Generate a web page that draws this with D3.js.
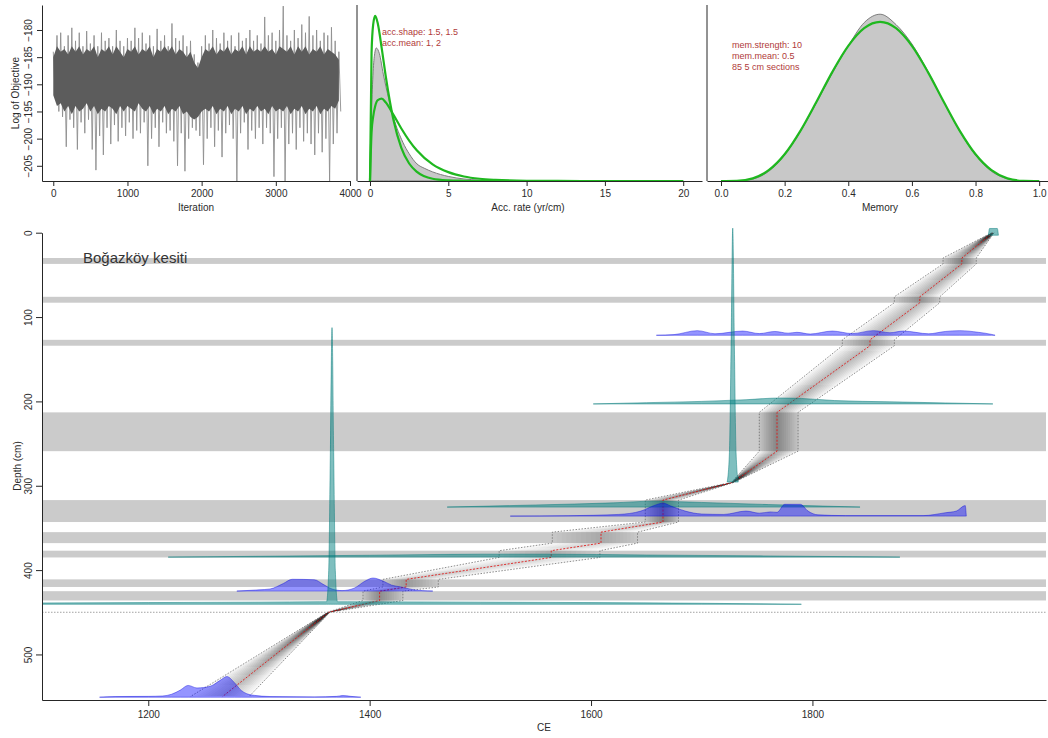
<!DOCTYPE html>
<html>
<head>
<meta charset="utf-8">
<script src="https://d3js.org/d3.v7.min.js"></script>
<style>
  body { margin: 0; background: #fff; }
  svg { display: block; }
  text { font-family: "Liberation Sans", Arial, Helvetica, sans-serif; fill: #2b2b2b; }
</style>
</head>
<body>
<svg id="chart" width="1048" height="738"></svg>
<script>
/* global d3 */

// ---- MCMC trace (log of objective), one value pair per 50 iterations
const traceStep = 50;
const traceHi = [-184, -181, -180.5, -183, -181, -179.6, -182, -180.5, -183, -180.2,
  -182.5, -181, -183, -180.5, -182, -181.5, -183, -180, -182, -183,
  -181.5, -182, -179.6, -181.5, -180.5, -182.5, -181, -183, -179.8, -182,
  -181, -183, -178.8, -181.5, -182, -181, -183, -182, -184.5, -186,
  -183, -181, -182.5, -180, -181.5, -182.5, -180.5, -182, -181, -183,
  -180.5, -182, -181.5, -180, -182, -181, -182.5, -177.6, -181, -180.5,
  -182, -180, -175.6, -181, -182, -180, -181.5, -179, -180.5, -177.5,
  -181, -180, -182, -180.5, -181, -179.5, -182, -184];
const traceLo = [-192, -195, -196, -201.5, -196.5, -198, -202, -197, -199, -196.5,
  -202, -205.8, -199.5, -203, -198, -201, -197.5, -200.5, -198, -199.5,
  -197, -200, -198.5, -199, -197, -205, -200, -198, -201.5, -197,
  -199, -198.5, -200.5, -205, -199, -206, -200, -198, -198.5, -199.5,
  -204.8, -200, -198, -201.5, -198.5, -203.4, -199, -197.5, -200, -208,
  -199, -197, -202, -198.5, -200, -198, -201, -198, -199, -207,
  -200, -198, -208, -201, -199, -202, -198, -200.5, -199, -201,
  -203, -199, -202.5, -200, -208, -201, -199, -195];
const coreHi = [-185, -183, -184, -183.5, -184.5, -183, -184, -183, -184.5, -183.5,
  -184, -183, -185, -183.5, -184, -183, -184.5, -183, -184, -185,
  -183.5, -184, -183, -184.5, -183.5, -184, -183, -185, -183.5, -184,
  -183, -184, -183, -184.5, -183.5, -184, -185, -184, -186, -187,
  -185, -183.5, -184, -183, -184.5, -183.5, -184, -183, -184.5, -183.5,
  -184, -183, -184.5, -183, -184, -183.5, -184, -183, -184, -183.5,
  -184.5, -183, -183.5, -184, -183, -184.5, -183, -184, -183, -184.5,
  -183.5, -184, -183, -184.5, -183.5, -184, -184.5, -185.5];
const coreLo = [-192, -194, -193.5, -195, -194, -195.5, -194, -195, -194.5, -193.5,
  -195, -194, -195.5, -194.5, -195, -194, -194.5, -195.5, -194, -195,
  -194, -194.5, -195, -193.5, -194.5, -195, -194, -195.5, -194.5, -195,
  -194, -195.5, -194.5, -195, -194, -195.5, -195, -196, -196.5, -196,
  -195, -194.5, -195, -194, -195.5, -194.5, -195, -194, -195.5, -194.5,
  -195, -194, -195.5, -194.5, -195, -194, -195, -194.5, -195.5, -194,
  -195, -194.5, -195, -194, -195.5, -194.5, -195, -194, -195.5, -194.5,
  -195, -194, -195.5, -194.5, -195, -194, -194.5, -193];
const traceXTicks = [0, 1000, 2000, 3000, 4000];
const traceYTicks = [-180, -185, -190, -195, -200, -205];

// ---- accumulation rate: priors (green) and posterior (grey)
const accGrid = [0, 0.1, 0.2, 0.33, 0.5, 0.75, 1, 1.5, 2, 2.5, 3, 4, 5, 6, 7, 8, 10, 12, 15, 20];
const accPrior1 = [0, 0.564, 0.687, 0.726, 0.692, 0.583, 0.463, 0.268, 0.146, 0.077, 0.04, 0.01, 0.003, 0.001, 0, 0, 0, 0, 0, 0];
const accPrior2 = [0, 0.215, 0.282, 0.329, 0.356, 0.362, 0.346, 0.291, 0.231, 0.178, 0.134, 0.073, 0.039, 0.02, 0.01, 0.005, 0.001, 0.0003, 0, 0];
const accPostX = [0, 0.1, 0.2, 0.3, 0.4, 0.6, 0.85, 1.2, 1.5, 2.1, 2.5, 3, 3.5, 4, 5, 6, 7, 8, 9];
const accPost = [0, 0.3, 0.48, 0.56, 0.585, 0.56, 0.47, 0.36, 0.28, 0.17, 0.12, 0.075, 0.055, 0.04, 0.02, 0.009, 0.004, 0.001, 0];
const accTicks = [0, 5, 10, 15, 20];

// ---- memory: prior (green) and posterior (grey)
const memGrid = [0, 0.05, 0.1, 0.15, 0.2, 0.25, 0.3, 0.35, 0.4, 0.45, 0.5, 0.55, 0.6, 0.65, 0.7, 0.75, 0.8, 0.85, 0.9, 0.95, 1];
const memPrior = [0, 0.003, 0.041, 0.167, 0.413, 0.779, 1.225, 1.688, 2.09, 2.364, 2.461, 2.364, 2.09, 1.688, 1.225, 0.779, 0.413, 0.167, 0.041, 0.003, 0];
const memPost = [0, 0.002, 0.03, 0.15, 0.4, 0.77, 1.21, 1.67, 2.09, 2.45, 2.58, 2.42, 2.12, 1.7, 1.22, 0.77, 0.4, 0.15, 0.035, 0.003, 0];
const memTicks = [0, 0.2, 0.4, 0.6, 0.8, 1];

// ---- age-depth model
const slumpTop = [30, 76, 127, 213, 317, 355, 377, 411, 425];
const slumpBottom = [37, 83, 134, 259, 343, 368, 385, 420, 436];
const hiatusDepth = [450];
const modelDepth = [0, 30, 37, 76, 83, 127, 134, 213, 259, 296, 317, 343, 355, 368, 377, 385, 411, 420, 425, 436, 450, 550];
const modelMean = [1963, 1935, 1935, 1897, 1897, 1852, 1852, 1768, 1768, 1728, 1665, 1665, 1609, 1609, 1564, 1564, 1433, 1433, 1409, 1409, 1363, 1267];
const modelMin = [1962, 1918, 1918, 1874, 1874, 1827, 1827, 1752, 1752, 1727, 1649, 1649, 1565, 1565, 1517, 1517, 1412, 1412, 1394, 1394, 1362, 1238];
const modelMax = [1964, 1948, 1948, 1915, 1915, 1874, 1874, 1787, 1787, 1729, 1679, 1679, 1642, 1642, 1608, 1608, 1462, 1462, 1430, 1430, 1364, 1291];
const ceTicks = [1200, 1400, 1600, 1800];
const depthTicks = [0, 100, 200, 300, 400, 500];

// ---- dated levels (age in CE, height in cm)
const ageA = [1959, 1960, 1967, 1968];
const probA = [0, 8, 8, 0];
const ageB = [1659, 1675, 1696, 1712, 1737, 1752, 1766, 1778, 1786, 1798, 1818, 1836, 1855, 1870, 1882, 1905, 1920, 1933, 1950, 1962, 1965];
const probB = [0, 0.8, 5.5, 1.8, 5, 2, 4.5, 2.5, 3.5, 1.5, 5, 2, 5.5, 3, 5, 1.8, 4.5, 5.5, 3.5, 1, 0];
const ageC = [1602, 1650, 1700, 1740, 1770, 1790, 1820, 1870, 1920, 1963];
const probC = [0, 1.5, 3, 5, 7, 6.5, 4, 2.5, 1.2, 0];
const ageS2 = [1723, 1725, 1726.5, 1728, 1729.5, 1731, 1733];
const probS2 = [0, 35, 160, 301, 160, 35, 0];
const ageD = [1470, 1550, 1620, 1656, 1700, 1760, 1843];
const probD = [0, 2.5, 5, 7, 5.5, 3, 0];
const ageE = [1527, 1580, 1625, 1645, 1658, 1665, 1672, 1685, 1700, 1720, 1740, 1752, 1762, 1768, 1775, 1789, 1796, 1805, 1830, 1900, 1920, 1930, 1938, 1939];
const probE = [0, 0.5, 2, 6, 13, 15.4, 12, 6, 2.5, 2, 6, 3.5, 5, 4.5, 14, 14, 6, 1.5, 0.6, 0.6, 4, 6, 12.5, 0];
const ageF = [1218, 1300, 1400, 1500, 1560, 1650, 1750, 1879];
const probF = [0, 1, 2.2, 3.5, 3.5, 2.5, 1.5, 0];
const ageG = [1280, 1300, 1310, 1322, 1330, 1350, 1358, 1366, 1375, 1386, 1396, 1403, 1412, 1420, 1428, 1438, 1457];
const probG = [0, 1.5, 2.5, 9, 14, 13.5, 8, 2.5, 0.6, 3.5, 12, 15.5, 12, 7, 5, 2, 0];
const ageS1 = [1095, 1200, 1300, 1355, 1361, 1363, 1364.5, 1366, 1367.5, 1369, 1371, 1380, 1500, 1600, 1700, 1790];
const probS1 = [1.5, 2, 2.5, 3, 3, 40, 180, 328, 180, 40, 3, 3, 2.5, 2, 1.2, 0];
const ageI = [1156, 1170, 1200, 1213, 1221, 1229, 1236, 1244, 1256, 1265, 1271, 1278, 1284, 1294, 1310, 1350, 1370, 1376, 1383, 1392];
const probI = [0, 0.8, 1, 1.5, 3.5, 8.5, 14, 11, 13, 20, 24.5, 17, 8, 2.5, 0.8, 0.4, 1, 2, 1, 0];

const dateDepth = [3, 121.6, 203, 295.6, 325.3, 336, 384.6, 424.9, 440.5, 550.7];
const dateKind = ['cal', 'c14', 'cal', 'cal', 'cal', 'c14', 'cal', 'c14', 'cal', 'c14'];
const dateAges = [ageA, ageB, ageC, ageS2, ageD, ageE, ageF, ageG, ageS1, ageI];
const dateProbs = [probA, probB, probC, probS2, probD, probE, probF, probG, probS1, probI];

const svg = d3.select('#chart');
const axisColor = '#262626';
const green = '#1fb81f';
const plain = d3.format('d');

function styleAxis(g) {
  g.select('.domain').attr('stroke', axisColor).attr('stroke-width', 1);
  g.selectAll('.tick line').attr('stroke', axisColor);
  g.selectAll('.tick text').attr('font-size', 10).attr('fill', '#2b2b2b');
}

function rotateLeftLabels(g, offset) {
  g.selectAll('.tick text')
    .attr('transform', 'rotate(-90)')
    .attr('x', 0)
    .attr('y', -offset)
    .attr('dy', 0)
    .attr('text-anchor', 'middle');
}

function addClip(id, x, y, w, h) {
  svg.append('clipPath').attr('id', id)
    .append('rect').attr('x', x).attr('y', y).attr('width', w).attr('height', h);
}

// ======== panel 1: trace ========
const p1x = d3.scaleLinear().domain([-152, 4000]).range([42, 350]);
const p1y = d3.scaleLinear().domain([-207.8, -175.4]).range([181, 5]);
addClip('clip1', 42, 5, 308, 176);

const zig = [];
traceHi.forEach((v, i) => {
  zig.push([i * traceStep, v]);
  zig.push([i * traceStep + traceStep / 2, traceLo[i]]);
});
const p1 = svg.append('g').attr('clip-path', 'url(#clip1)');
p1.append('path')
  .attr('d', d3.line().x((d) => p1x(d[0])).y((d) => p1y(d[1]))(zig))
  .attr('fill', 'none').attr('stroke', '#8e8e8e').attr('stroke-width', 0.9);
p1.append('path')
  .attr('d', d3.area()
    .x((d, i) => p1x(i * traceStep))
    .y0((d, i) => p1y(coreLo[i]))
    .y1((d) => p1y(d))(coreHi))
  .attr('fill', '#5c5c5c');

svg.append('g').attr('transform', 'translate(0,181)')
  .call(d3.axisBottom(p1x).tickValues(traceXTicks).tickFormat(plain)
    .tickSize(5).tickSizeOuter(0).tickPadding(4))
  .call(styleAxis);
svg.append('g').attr('transform', 'translate(42,0)')
  .call(d3.axisLeft(p1y).tickValues(traceYTicks).tickFormat(plain).tickSize(5).tickSizeOuter(0))
  .call(styleAxis)
  .call((g) => rotateLeftLabels(g, 10));
svg.append('text').attr('x', 196).attr('y', 211).attr('text-anchor', 'middle')
  .attr('font-size', 10).text('Iteration');
svg.append('text').attr('transform', 'translate(19,93) rotate(-90)').attr('text-anchor', 'middle')
  .attr('font-size', 10).text('Log of Objective');

// ======== panel 2: accumulation rate ========
const p2x = d3.scaleLinear().domain([-0.83, 21.2]).range([357, 702]);
const p2y = d3.scaleLinear().domain([0, 0.7828]).range([181, 3]);

svg.append('path')
  .attr('d', d3.area().curve(d3.curveMonotoneX)
    .x((d, i) => p2x(accPostX[i])).y0(p2y(0)).y1((d) => p2y(d))(accPost))
  .attr('fill', '#c8c8c8').attr('stroke', '#7d7d7d').attr('stroke-width', 1);
[accPrior1, accPrior2].forEach((prior) => {
  svg.append('path')
    .attr('d', d3.line().curve(d3.curveMonotoneX)
      .x((d, i) => p2x(accGrid[i])).y((d) => p2y(d))(prior))
    .attr('fill', 'none').attr('stroke', green).attr('stroke-width', 2.2);
});
svg.append('g').attr('transform', 'translate(0,181)')
  .call(d3.axisBottom(p2x).tickValues(accTicks).tickFormat(plain)
    .tickSize(5).tickSizeOuter(0).tickPadding(4))
  .call(styleAxis);
svg.append('line').attr('x1', 357).attr('x2', 357).attr('y1', 5).attr('y2', 181)
  .attr('stroke', axisColor);
svg.append('text').attr('x', 528).attr('y', 211).attr('text-anchor', 'middle')
  .attr('font-size', 10).text('Acc. rate (yr/cm)');
svg.append('text').attr('x', 382).attr('y', 35).attr('font-size', 9).style('fill', '#b03a3a')
  .text('acc.shape:  1.5, 1.5');
svg.append('text').attr('x', 382).attr('y', 46).attr('font-size', 9).style('fill', '#b03a3a')
  .text('acc.mean:  1, 2');

// ======== panel 3: memory ========
const p3x = d3.scaleLinear().domain([-0.044, 1.034]).range([707, 1050]);
const p3y = d3.scaleLinear().domain([0, 2.8]).range([181, 0]);

svg.append('path')
  .attr('d', d3.area().curve(d3.curveMonotoneX)
    .x((d, i) => p3x(memGrid[i])).y0(p3y(0)).y1((d) => p3y(d))(memPost))
  .attr('fill', '#c8c8c8').attr('stroke', '#7d7d7d').attr('stroke-width', 1);
svg.append('path')
  .attr('d', d3.line().curve(d3.curveMonotoneX)
    .x((d, i) => p3x(memGrid[i])).y((d) => p3y(d))(memPrior))
  .attr('fill', 'none').attr('stroke', green).attr('stroke-width', 2.2);
svg.append('g').attr('transform', 'translate(0,181)')
  .call(d3.axisBottom(p3x).tickValues(memTicks).tickFormat(d3.format('.1f'))
    .tickSize(5).tickSizeOuter(0).tickPadding(4))
  .call(styleAxis);
svg.append('line').attr('x1', 707).attr('x2', 707).attr('y1', 5).attr('y2', 181)
  .attr('stroke', axisColor);
svg.append('text').attr('x', 880).attr('y', 211).attr('text-anchor', 'middle')
  .attr('font-size', 10).text('Memory');
['mem.strength: 10', 'mem.mean: 0.5', '85 5 cm sections'].forEach((t, i) => {
  svg.append('text').attr('x', 732).attr('y', 48 + i * 11).attr('font-size', 9)
    .style('fill', '#b03a3a').text(t);
});

// ======== main panel: age-depth model ========
const x = d3.scaleLinear().domain([1104, 2011]).range([42, 1046]);
const y = d3.scaleLinear().domain([0, 554]).range([232.7, 700]);
addClip('clipMain', 42, 215, 1004, 485);
const main = svg.append('g').attr('clip-path', 'url(#clipMain)');

// slump sections
main.selectAll('rect.slump')
  .data(slumpTop)
  .join('rect')
  .attr('class', 'slump')
  .attr('x', 42)
  .attr('width', 1004)
  .attr('y', (d) => y(d))
  .attr('height', (d, i) => y(slumpBottom[i]) - y(d))
  .attr('fill', '#cbcbcb');

// grey-scale model density, darker where the envelope is narrow
const minAt = d3.scaleLinear().domain(modelDepth).range(modelMin);
const meanAt = d3.scaleLinear().domain(modelDepth).range(modelMean);
const maxAt = d3.scaleLinear().domain(modelDepth).range(modelMax);
const shade = main.append('g');
const layers = d3.range(10, 0, -1).map((k) => k / 10);
const rowTop = Math.ceil(y(modelDepth[0]));
const rowBottom = Math.floor(y(modelDepth[modelDepth.length - 1]));
for (let py = rowTop; py < rowBottom; py += 1) {
  const dep = y.invert(py + 0.5);
  const lo = x(minAt(dep));
  const mid = x(meanAt(dep));
  const hi = x(maxAt(dep));
  const w = Math.max(hi - lo, 1);
  const op = Math.min(0.17, 1.3 / w);
  for (let k = 0; k < layers.length; k += 1) {
    const a = mid - layers[k] * (mid - lo);
    const b = mid + layers[k] * (hi - mid);
    shade.append('rect')
      .attr('x', a - 0.5).attr('y', py)
      .attr('width', b - a + 1).attr('height', 1.02)
      .attr('fill', '#000').attr('fill-opacity', op);
  }
}

const boundLine = (vals) => d3.line().x((d, i) => x(vals[i])).y((d) => y(d))(modelDepth);
[modelMin, modelMax].forEach((vals) => {
  main.append('path').attr('d', boundLine(vals))
    .attr('fill', 'none').attr('stroke', '#6e6e6e').attr('stroke-width', 0.8)
    .attr('stroke-dasharray', '1.5,1.5');
});
main.append('path').attr('d', boundLine(modelMean))
  .attr('fill', 'none').attr('stroke', '#e01010').attr('stroke-width', 1)
  .attr('stroke-dasharray', '2,1.5').attr('stroke-opacity', 0.85);

// dated levels
dateAges.forEach((ages, j) => {
  const base = dateDepth[j];
  const probs = dateProbs[j];
  const isCal = dateKind[j] === 'cal';
  main.append('path')
    .attr('d', d3.area().curve(d3.curveMonotoneX)
      .x((d) => x(d))
      .y0(y(base))
      .y1((d, i) => y(base - probs[i]))(ages))
    .attr('fill', isCal ? 'rgba(0,128,128,0.5)' : 'rgba(0,0,255,0.42)')
    .attr('stroke', isCal ? 'rgba(0,120,120,0.6)' : 'rgba(0,0,220,0.5)')
    .attr('stroke-width', 0.8);
});

// hiatus
main.selectAll('line.hiatus')
  .data(hiatusDepth)
  .join('line')
  .attr('class', 'hiatus')
  .attr('x1', 42).attr('x2', 1046)
  .attr('y1', (d) => y(d)).attr('y2', (d) => y(d))
  .attr('stroke', '#7a7a7a').attr('stroke-width', 0.7)
  .attr('stroke-dasharray', '1.5,1.5');

// axes
svg.append('g').attr('transform', 'translate(0,700)')
  .call(d3.axisBottom(x).tickValues(ceTicks).tickFormat(plain)
    .tickSize(6).tickSizeOuter(0).tickPadding(5))
  .call(styleAxis);
svg.append('g').attr('transform', 'translate(42,0)')
  .call(d3.axisLeft(y).tickValues(depthTicks).tickFormat(plain).tickSize(6).tickSizeOuter(0))
  .call(styleAxis)
  .call((g) => rotateLeftLabels(g, 10));
svg.append('text').attr('x', 544).attr('y', 731).attr('text-anchor', 'middle')
  .attr('font-size', 10).text('CE');
svg.append('text').attr('transform', 'translate(21,466) rotate(-90)').attr('text-anchor', 'middle')
  .attr('font-size', 10).text('Depth (cm)');
svg.append('text').attr('x', 83).attr('y', 263).attr('font-size', 15)
  .style('fill', '#333').text('Boğazköy kesiti');
</script>
</body>
</html>
